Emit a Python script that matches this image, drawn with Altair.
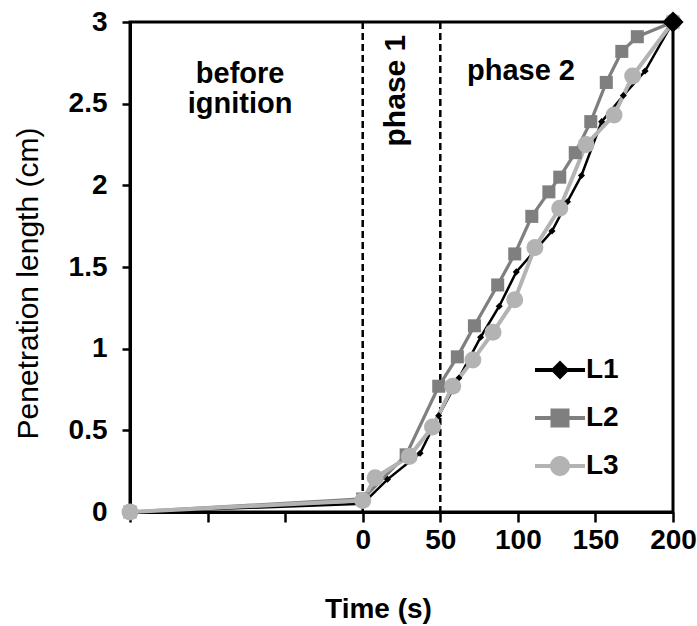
import altair as alt
import pandas as pd

# ---------------- data ----------------
series_names = ["L1", "L2", "L3"]
series_colors = ["#000000", "#7f7f7f", "#b3b3b3"]

l1_t = [-150, 0, 16, 37, 49, 62, 76, 88, 99, 111, 122, 132, 141, 154, 168, 182, 200]
l1_v = [0, 0.05, 0.2, 0.36, 0.59, 0.82, 1.07, 1.26, 1.47, 1.6, 1.72, 1.9, 2.06, 2.39, 2.55, 2.7, 3.0]

l2_t = [-150, 0, 28, 49, 61, 72, 87, 98, 109, 120, 127, 137, 147, 157, 167, 177, 200]
l2_v = [0, 0.08, 0.35, 0.77, 0.95, 1.14, 1.39, 1.58, 1.81, 1.96, 2.05, 2.2, 2.39, 2.63, 2.82, 2.91, 3.0]

l3_t = [-150, 0, 8, 30, 45, 58, 71, 84, 98, 111, 127, 144, 162, 174, 200]
l3_v = [0, 0.07, 0.21, 0.34, 0.52, 0.77, 0.93, 1.1, 1.30, 1.62, 1.86, 2.25, 2.43, 2.67, 3.0]

x_ticks = [-150, -100, -50, 0, 50, 100, 150, 200]
y_ticks = [0, 0.5, 1, 1.5, 2, 2.5, 3]
phase_bounds = [0, 50]

ann_text = ["before\nignition", "phase 2"]
ann_t = [-79, 102]
ann_v = [2.627, 2.645]

rot_text = ["phase 1"]
rot_t = [21.5]
rot_v = [2.58]

# ---------------- tables ----------------
rows = []
for name, ts, vs in [("L1", l1_t, l1_v), ("L2", l2_t, l2_v), ("L3", l3_t, l3_v)]:
    for i, (t, v) in enumerate(zip(ts, vs)):
        rows.append({"series": name, "t": t, "v": v, "idx": i})
df = pd.DataFrame(rows)
bounds_df = pd.DataFrame({"t": phase_bounds})
ann_df = pd.DataFrame({"label": ann_text, "t": ann_t, "v": ann_v})
rot_df = pd.DataFrame({"label": rot_text, "t": rot_t, "v": rot_v})

FONT = "Liberation Sans"

x_enc = alt.X(
    "t:Q",
    scale=alt.Scale(domain=[-150, 200], nice=False, zero=False),
    axis=alt.Axis(
        values=x_ticks,
        labelExpr="datum.value >= 0 ? datum.label : ''",
        title="Time (s)",
        grid=False,
        domainColor="black", domainWidth=3,
        tickColor="black", tickWidth=2.5, tickSize=10,
        labelPadding=4, labelFlush=False, labelOverlap=False,
        labelFont=FONT, labelFontSize=28, labelFontWeight="bold", labelColor="black",
        titleFont=FONT, titleFontSize=28, titleFontWeight="bold", titleColor="black",
        titleX=248, titleY=105, titleBaseline="alphabetic", titleAlign="center",
    ),
)
y_enc = alt.Y(
    "v:Q",
    scale=alt.Scale(domain=[0, 3], nice=False, zero=False),
    axis=alt.Axis(
        values=y_ticks,
        format="~g",
        title="Penetration length (cm)",
        grid=False,
        domainColor="black", domainWidth=3,
        tickColor="black", tickWidth=2.5, tickSize=8,
        labelPadding=15, labelFlush=False, labelOverlap=False,
        labelFont=FONT, labelFontSize=28, labelFontWeight="bold", labelColor="black",
        titleFont=FONT, titleFontSize=30, titleFontWeight="normal", titleColor="black",
        titleX=-93, titleY=261, titleBaseline="alphabetic", titleAlign="center", titleAngle=270,
    ),
)

color_nolegend = alt.Color(
    "series:N", scale=alt.Scale(domain=series_names, range=series_colors), legend=None
)

rules = alt.Chart(bounds_df).mark_rule(
    color="black", strokeWidth=2.5, strokeDash=[7, 4]
).encode(x=x_enc)

lines = alt.Chart(df).mark_line().encode(
    x=x_enc, y=y_enc,
    color=color_nolegend,
    strokeWidth=alt.StrokeWidth(
        "series:N", scale=alt.Scale(domain=series_names, range=[2.5, 4, 4]), legend=None
    ),
    order="idx:Q",
)

points = alt.Chart(df).mark_point(filled=True, opacity=1).encode(
    x=x_enc, y=y_enc,
    color=color_nolegend,
    shape=alt.Shape(
        "series:N", scale=alt.Scale(domain=series_names, range=["diamond", "square", "circle"]),
        legend=None,
    ),
    size=alt.Size(
        "series:N", scale=alt.Scale(domain=series_names, range=[50, 289, 230]), legend=None
    ),
)

end_marker = alt.Chart(df).transform_filter(
    "datum.series == 'L1' && datum.t == 200"
).mark_point(filled=True, opacity=1, shape="diamond", size=450, color="black").encode(
    x=x_enc, y=y_enc
)

line_bar = "M-2.5,-0.2L2.5,-0.2L2.5,0.2L-2.5,0.2Z"
legend_paths = [
    line_bar + "M0,-0.95L0.95,0L0,0.95L-0.95,0Z",
    line_bar + "M-0.95,-0.95L0.95,-0.95L0.95,0.95L-0.95,0.95Z",
    line_bar + "M-1,0A1,1,0,1,1,1,0A1,1,0,1,1,-1,0Z",
]

leg = alt.Legend(
    title=None, orient="none", legendX=416, legendY=334,
    symbolSize=400, symbolStrokeWidth=0, symbolOpacity=1,
    labelOffset=12, labelFont=FONT, labelFontSize=28, labelFontWeight="bold",
    labelColor="black", rowPadding=20, padding=0,
)

legend_layer = alt.Chart(df).mark_point(filled=True, opacity=0).encode(
    x=x_enc, y=y_enc,
    color=alt.Color("series:N", scale=alt.Scale(domain=series_names, range=series_colors), legend=leg),
    shape=alt.Shape("series:N", scale=alt.Scale(domain=series_names, range=legend_paths), legend=leg),
)

ann = alt.Chart(ann_df).mark_text(
    font=FONT, fontSize=29, fontWeight="bold", color="black",
    align="center", baseline="alphabetic", lineBreak="\n", lineHeight=30,
).encode(x=x_enc, y=y_enc, text="label:N")

rot = alt.Chart(rot_df).mark_text(
    font=FONT, fontSize=30, fontWeight="bold", color="black",
    align="center", baseline="middle", angle=270,
).encode(x=x_enc, y=y_enc, text="label:N")

chart = alt.layer(
    rules, lines, points, end_marker, legend_layer, ann, rot
).resolve_scale(
    color="independent", shape="independent", size="independent", strokeWidth="independent"
).properties(
    width=543, height=490,
    autosize=alt.AutoSizeParams(type="none"),
    padding={"left": 130, "top": 22, "right": 24, "bottom": 114},
    background="white",
).configure_view(stroke="black", strokeWidth=3)

chart.save("out.html", embed_options={"renderer": "svg", "actions": False})
